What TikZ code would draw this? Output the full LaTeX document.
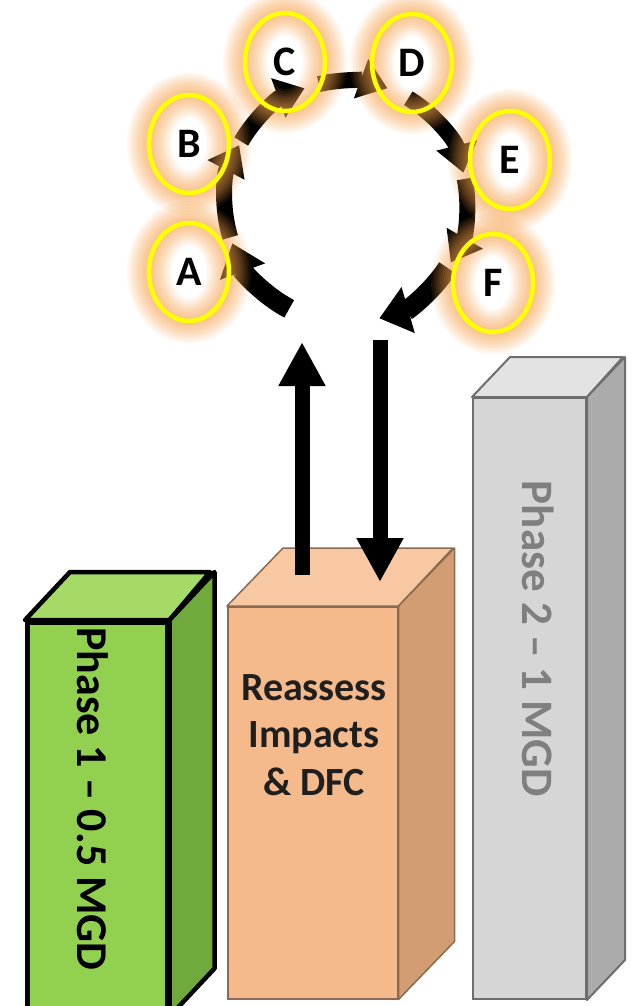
\documentclass[tikz,border=0pt]{standalone}
\usepackage{fontspec}
\setmainfont{Carlito}
\usetikzlibrary{arrows.meta,shapes.geometric,calc}
\definecolor{gfront}{HTML}{92D050}
\definecolor{gtop}{HTML}{A6DA66}
\definecolor{gside}{HTML}{70AA3C}
\definecolor{ofront}{HTML}{F5BA8B}
\definecolor{otop}{HTML}{F8C8A2}
\definecolor{oside}{HTML}{D29D73}
\definecolor{oline}{HTML}{8A6A50}
\definecolor{xfront}{HTML}{D6D6D6}
\definecolor{xtop}{HTML}{E3E3E3}
\definecolor{xside}{HTML}{ABABAB}
\definecolor{xline}{HTML}{6E6E6E}
\definecolor{xtext}{HTML}{7F7F7F}
\definecolor{glowc}{HTML}{F4A04A}
\definecolor{ringyellow}{HTML}{FFFF00}
\begin{document}
\begin{tikzpicture}[x=1pt,y=-1pt,
  cycarrow/.style={line width=16pt, -{Triangle[width=40pt,length=28pt]}},
  bigcycarrow/.style={line width=20pt, -{Triangle[width=46pt,length=30pt]}},
  vertarrow/.style={line width=15pt, -{Triangle[width=44pt,length=44pt]}},
  ringglow/.style={draw=glowc, line width=#1, draw opacity=0.09},
  ring/.style={ellipse, draw=ringyellow, line width=4.5pt, minimum width=80pt, minimum height=98pt, inner sep=0pt, font=\fontsize{42}{42}\selectfont\bfseries},
  frontface/.style={anchor=north west, inner sep=0pt},
  phasetext/.style={rotate=-90, inner sep=0pt},
]
\useasboundingbox (0,0) rectangle (630,1006);
\clip (0,0) rectangle (630,1006);

% ---- green box
\node[frontface, draw=black, line width=4.5pt, fill=gfront, minimum width=140pt, minimum height=392pt] (g) at (25,620) {};
\draw[fill=gtop, draw=black, line width=4.5pt, line join=round] (g.north west) -- ++(45,-48) -- ++(140,0) -- (g.north east) -- cycle;
\draw[fill=gside, draw=black, line width=4.5pt, line join=round] (g.north east) -- ++(45,-48) -- ($(g.south east)+(45,-48)$) -- (g.south east) -- cycle;
\node[phasetext, font=\fontsize{44}{44}\selectfont\bfseries] (t1) at (92.5,799) {Phase 1 – 0.5 MGD};

% ---- orange box
\node[frontface, draw=oline, line width=1.5pt, fill=ofront, minimum width=170pt, minimum height=392pt] (o) at (227,606) {};
\draw[fill=otop, draw=oline, line width=1.5pt, line join=round] (o.north west) -- ++(56,-58) -- ++(170,0) -- (o.north east) -- cycle;
\draw[fill=oside, draw=oline, line width=1.5pt, line join=round] (o.north east) -- ++(56,-58) -- ($(o.south east)+(56,-58)$) -- (o.south east) -- cycle;
\node[align=center, inner sep=0pt, text=black!88, font=\fontsize{40}{47.5}\selectfont\bfseries] (t2) at (314,735) {Reassess\\Impacts\\\& DFC};

% ---- gray box
\node[frontface, draw=xline, line width=2pt, fill=xfront, minimum width=113pt, minimum height=601pt] (x) at (472,397) {};
\draw[fill=xtop, draw=xline, line width=2pt, line join=round] (x.north west) -- ++(38,-40) -- ++(113,0) -- (x.north east) -- cycle;
\draw[fill=xside, draw=xline, line width=2pt, line join=round] (x.north east) -- ++(38,-40) -- ($(x.south east)+(38,-40)$) -- (x.south east) -- cycle;
\node[phasetext, text=xtext, font=\fontsize{45}{45}\selectfont\bfseries] (t3) at (538.5,639) {Phase 2 – 1 MGD};

% ---- vertical arrows
\coordinate (upfoot) at (302,575);
\coordinate (uphead) at (302,342);
\coordinate (downtop) at (380,340);
\coordinate (downhead) at (380,582);
\draw[vertarrow] (upfoot) -- (uphead);
\draw[vertarrow] (downtop) -- (downhead);

% ---- cycle arrows
\coordinate (cyc) at (346,202);
\draw[bigcycarrow] ([shift={(118:121)}]cyc) arc[start angle=118, end angle=160, radius=121];
\draw[cycarrow] ([shift={(163:121)}]cyc) arc[start angle=163, end angle=208, radius=121];
\draw[cycarrow] ([shift={(210:121)}]cyc) arc[start angle=210, end angle=250, radius=121];
\draw[cycarrow] ([shift={(257:121)}]cyc) arc[start angle=257, end angle=290, radius=121];
\draw[cycarrow] ([shift={(301:121)}]cyc) arc[start angle=301, end angle=346, radius=121];
\draw[cycarrow] ([shift={(349:121)}]cyc) arc[start angle=349, end angle=390, radius=121];
\draw[bigcycarrow] ([shift={(393:121)}]cyc) arc[start angle=393, end angle=434, radius=121];

% ---- glows
\foreach \p in {(189,272),(189,144),(285,62),(412,63),(510,160),(493,283)}{
  \foreach \w in {44,39,34,30,26,22,18,14,10,7}{
    \draw[ringglow=\w] \p ellipse[x radius=40, y radius=49];
  }
}

% ---- rings with letters
\node[ring] (A) at (189,272) {A};
\node[ring] (B) at (189,144) {B};
\node[ring] (C) at (285,62) {C};
\node[ring] (D) at (412,63) {D};
\node[ring] (E) at (510,160) {E};
\node[ring] (F) at (493,283) {F};
\end{tikzpicture}
\end{document}
